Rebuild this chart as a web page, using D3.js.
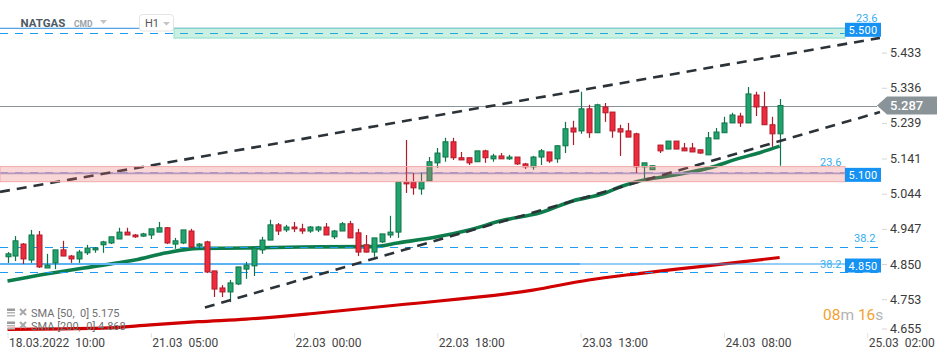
<!DOCTYPE html>
<html><head><meta charset="utf-8">
<script src="https://cdn.jsdelivr.net/npm/d3@7"></script>
<style>
body{margin:0;background:#fff;}
svg{display:block;font-family:Roboto,'Open Sans',sans-serif;}
</style>
</head><body>
<svg id="c" width="950" height="360"></svg>
<script>
// ---------- DATA ----------
const opens = [4.870,4.872,4.905,4.861,4.930,4.839,4.853,4.889,4.872,4.864,4.881,4.889,4.903,4.908,4.919,4.938,4.930,4.927,4.930,4.938,
4.950,4.905,4.908,4.941,4.900,4.911,4.831,4.784,4.773,4.795,4.836,4.845,4.889,4.916,4.958,4.944,4.952,4.947,4.941,4.944,
4.952,4.925,4.941,4.961,4.936,4.903,4.883,4.911,4.930,4.938,5.076,5.076,5.057,5.079,5.129,5.145,5.187,5.143,5.143,5.132,
5.162,5.140,5.148,5.140,5.145,5.126,5.118,5.145,5.159,5.140,5.176,5.225,5.217,5.278,5.212,5.283,5.269,5.223,5.217,5.209,
5.118,5.110,5.178,5.167,5.189,5.170,5.170,5.165,5.151,5.195,5.212,5.239,5.258,5.239,5.316,5.283,5.234,5.209];
const highs = [4.883,4.927,4.908,4.944,4.941,4.878,4.889,4.914,4.875,4.889,4.903,4.897,4.914,4.925,4.950,4.950,4.933,4.936,4.947,4.966,
4.952,4.922,4.944,4.947,4.908,4.914,4.831,4.792,4.806,4.842,4.856,4.894,4.925,4.972,4.963,4.958,4.966,4.961,4.955,4.955,
4.963,4.944,4.966,4.969,4.947,4.930,4.922,4.933,4.983,5.076,5.192,5.101,5.101,5.145,5.170,5.198,5.198,5.159,5.143,5.162,
5.165,5.154,5.156,5.151,5.145,5.129,5.148,5.167,5.159,5.178,5.242,5.245,5.325,5.289,5.292,5.294,5.269,5.234,5.239,5.212,
5.129,5.121,5.178,5.189,5.189,5.184,5.184,5.165,5.214,5.225,5.256,5.267,5.267,5.338,5.325,5.325,5.256,5.305];
const lows = [4.853,4.858,4.850,4.853,4.839,4.839,4.836,4.872,4.853,4.853,4.875,4.881,4.881,4.905,4.919,4.930,4.922,4.925,4.919,4.938,
4.905,4.892,4.905,4.894,4.892,4.825,4.759,4.759,4.745,4.792,4.809,4.817,4.878,4.916,4.930,4.938,4.938,4.933,4.936,4.938,
4.930,4.919,4.941,4.922,4.872,4.881,4.870,4.908,4.922,4.922,5.046,5.041,5.041,5.079,5.115,5.132,5.137,5.137,5.123,5.132,
5.129,5.132,5.140,5.137,5.123,5.112,5.110,5.123,5.129,5.129,5.156,5.178,5.209,5.198,5.212,5.242,5.198,5.148,5.200,5.101,
5.082,5.110,5.156,5.167,5.167,5.162,5.159,5.154,5.151,5.195,5.212,5.239,5.228,5.239,5.258,5.234,5.173,5.121];
const closes = [4.878,4.914,4.864,4.930,4.842,4.847,4.889,4.872,4.864,4.883,4.894,4.894,4.911,4.925,4.938,4.930,4.925,4.933,4.947,4.950,
4.908,4.914,4.944,4.897,4.905,4.828,4.781,4.773,4.798,4.842,4.847,4.894,4.916,4.958,4.941,4.952,4.947,4.941,4.952,4.952,
4.930,4.941,4.961,4.922,4.883,4.883,4.922,4.933,4.938,5.076,5.071,5.060,5.076,5.132,5.156,5.187,5.143,5.137,5.129,5.162,
5.143,5.148,5.140,5.145,5.126,5.118,5.145,5.162,5.134,5.176,5.223,5.214,5.278,5.212,5.289,5.267,5.217,5.214,5.200,5.118,
5.129,5.121,5.162,5.189,5.167,5.162,5.159,5.156,5.198,5.214,5.239,5.261,5.239,5.319,5.283,5.234,5.209,5.287];

const xTickIdx = [0,18,36,54,72,90,108];
const xTickLabels = ["18.03.2022  10:00","21.03  05:00","22.03  00:00","22.03  18:00","23.03  13:00","24.03  08:00","25.03  02:00"];
const yTicks = [5.433,5.336,5.239,5.141,5.044,4.947,4.850,4.753,4.655];

const sma50Idx = [0,5,12,16,20,24,30,37,46,49,54,58,62,67,71,75,77,79,84,88,92,94.5,97];
const sma50Val = [4.803,4.823,4.847,4.861,4.881,4.893,4.894,4.897,4.898,4.908,4.925,4.944,4.969,4.992,5.024,5.045,5.063,5.077,5.096,5.114,5.142,5.157,5.175];
const sma200Idx = [0,12,18,24,30,39,49,66,73,79,87,97];
const sma200Val = [4.670,4.673,4.682,4.691,4.698,4.715,4.737,4.778,4.806,4.823,4.843,4.868];

const lastPrice = 5.287;
const levelBoxes = [5.500,5.100,4.850];
const fibLevels = [5.4865,5.104,4.896,4.827];
const fibLabels = ["23.6","23.6","38.2","38.2"];
const greenZone = [5.473,5.500];
const redZone = [5.077,5.1186];
const trendUpper = [[-0.94,5.049],[109.6,5.4735]];
const trendLower = [[24.8,4.730],[109.6,5.269]];
const legendRows = ["SMA [50,  0] 5.175","SMA [200,  0] 4.868"];

// ---------- SCALES ----------
const svg = d3.select("#c");
const x = d3.scaleLinear().domain([0,108]).range([7.5,867.2]);
const y = d3.scaleLinear().domain([4.646,5.578]).range([338,0]);
const R = 880;

const plot = svg.append("g");

// legend (under the SMA200 line)
const leg = svg.append("g");
legendRows.forEach((t,k)=>{
  const cy = 313 + k*13;
  leg.append("rect").attr("x",7).attr("y",cy-4.5).attr("width",8).attr("height",2.5).attr("fill","#9a9a9a");
  leg.append("rect").attr("x",7).attr("y",cy-1).attr("width",8).attr("height",1.5).attr("fill","#b5b5b5");
  leg.append("rect").attr("x",7).attr("y",cy+2).attr("width",8).attr("height",1.5).attr("fill","#b5b5b5");
  leg.append("path").attr("d",`M20,${cy-4}L26,${cy+2}M26,${cy-4}L20,${cy+2}`).attr("stroke","#a8a8a8").attr("stroke-width",2);
  leg.append("text").attr("x",31).attr("y",cy+4).attr("font-size",11).attr("fill","#707070")
    .style("white-space","pre").text(t);
});

// SMA lines
const line = d3.line().x(d=>x(d[0])).y(d=>y(d[1])).curve(d3.curveMonotoneX);
plot.append("path").datum(sma200Idx.map((d,i)=>[d,sma200Val[i]]))
  .attr("d",line).attr("fill","none").attr("stroke","#d00000").attr("stroke-width",3.2);
plot.append("path").datum(sma50Idx.map((d,i)=>[d,sma50Val[i]]))
  .attr("d",line).attr("fill","none").attr("stroke","#0e7d4c").attr("stroke-width",3.6);

// horizontal level lines
plot.append("line").attr("x1",0).attr("x2",845).attr("y1",y(5.500)).attr("y2",y(5.500)).attr("stroke","#2b8de0").attr("stroke-width",1);
plot.append("line").attr("x1",0).attr("x2",580).attr("y1",y(4.850)).attr("y2",y(4.850)).attr("stroke","#8cc9f7").attr("stroke-width",2.2);
plot.append("line").attr("x1",0).attr("x2",R).attr("y1",y(4.850)).attr("y2",y(4.850)).attr("stroke","#2a9df2").attr("stroke-width",1.2);
fibLevels.forEach((v,k)=>{
  plot.append("line").attr("x1",0).attr("x2",k<2?845:R).attr("y1",Math.round(y(v))+0.5).attr("y2",Math.round(y(v))+0.5)
    .attr("stroke",k==1?"#7fa8e0":"#1d9bf0").attr("stroke-width",1).attr("stroke-dasharray","8,7");
});
plot.append("line").attr("x1",0).attr("x2",845).attr("y1",y(5.100)).attr("y2",y(5.100)).attr("stroke","#a3a7dc").attr("stroke-width",1.6);

// price line
plot.append("line").attr("x1",0).attr("x2",877).attr("y1",Math.round(y(lastPrice))+0.5).attr("y2",Math.round(y(lastPrice))+0.5)
  .attr("stroke","#8c9499").attr("stroke-width",1);

// candles
const candles = opens.map((o,i)=>({i,o,h:highs[i],l:lows[i],c:closes[i]}));
const cg = plot.append("g");
candles.forEach(d=>{
  const up = d.c>=d.o;
  const cx = Math.round(x(d.i))+0.5;
  const stroke = up?"#0f7449":"#b01b2b";
  const fill = up?"#22a36d":"#ef2a3c";
  cg.append("line").attr("x1",cx).attr("x2",cx).attr("y1",y(d.h)).attr("y2",y(d.l)).attr("stroke",stroke).attr("stroke-width",1.2);
  const top = y(Math.max(d.o,d.c)), bot = y(Math.min(d.o,d.c));
  cg.append("rect").attr("x",cx-2.5).attr("y",top).attr("width",5).attr("height",Math.max(1.5,bot-top))
    .attr("fill",fill).attr("stroke",stroke).attr("stroke-width",1);
});

// trend lines
[trendUpper,trendLower].forEach(t=>{
  plot.append("line").attr("x1",x(t[0][0])).attr("y1",y(t[0][1])).attr("x2",x(t[1][0])).attr("y2",y(t[1][1]))
    .attr("stroke","#2c3338").attr("stroke-width",2.6).attr("stroke-dasharray","10,7");
});

// zones (on top, translucent)
plot.append("rect").attr("x",0).attr("width",845).attr("y",y(redZone[1])).attr("height",y(redZone[0])-y(redZone[1]))
  .attr("fill","rgba(236,110,110,0.28)").attr("stroke","#f2a9a9").attr("stroke-width",1);
plot.append("rect").attr("x",174).attr("width",671).attr("y",y(greenZone[1])).attr("height",y(greenZone[0])-y(greenZone[1]))
  .attr("fill","rgba(60,200,150,0.28)").attr("stroke","#8fdfc6").attr("stroke-width",1);

// fib labels
const fibLabelPos = [[856,21.5],[820,166],[854,242],[820,268]];
fibLevels.forEach((v,k)=>{
  plot.append("text").attr("x",fibLabelPos[k][0]).attr("y",fibLabelPos[k][1]).attr("font-size",11)
    .attr("fill","#35aef0").text(fibLabels[k]);
});

// level boxes
levelBoxes.forEach(v=>{
  const cy = y(v) + 1.5;
  svg.append("rect").attr("x",845).attr("y",cy-7).attr("width",36).attr("height",14).attr("fill","#1592f2");
  svg.append("text").attr("x",863).attr("y",cy+4).attr("text-anchor","middle").attr("font-size",11)
    .attr("fill","#fff").attr("letter-spacing",0.3).text(v.toFixed(3));
});

// y axis
const yAx = svg.append("g").attr("transform","translate(882,0)")
  .call(d3.axisRight(y).tickValues(yTicks).tickFormat(d3.format(".3f")).tickSize(5).tickPadding(3));
yAx.select(".domain").remove();
yAx.selectAll(".tick line").attr("stroke","#d5d5d5");
yAx.selectAll(".tick text").attr("font-size",12.5).attr("fill","#3a3a3a").attr("font-family","Roboto,sans-serif");
yAx.selectAll(".tick").filter(d=>d===4.655).attr("transform","translate(0,329)");

// current price box
const py = y(lastPrice);
svg.append("path").attr("d",`M877,${py}L887,${py-9}L937,${py-9}L937,${py+9}L887,${py+9}Z`).attr("fill","#8a9398");
svg.append("text").attr("x",890).attr("y",py+4.5).attr("font-size",13).attr("font-weight",500).attr("fill","#fff").text(lastPrice.toFixed(3));

// x axis
const xAx = svg.append("g").attr("transform","translate(0,333)")
  .call(d3.axisBottom(x).tickValues(xTickIdx).tickFormat((d,i)=>xTickLabels[i]).tickSize(5).tickPadding(0));
xAx.select(".domain").remove();
xAx.selectAll(".tick line").attr("stroke","#e2e2e2");
xAx.selectAll(".tick text").attr("text-anchor","start").attr("x",1).attr("font-size",12).attr("fill","#444")
  .attr("font-family","Roboto,sans-serif").style("white-space","pre");

// countdown
const cd = svg.append("text").attr("x",823).attr("y",320).attr("font-size",15.5);
cd.append("tspan").attr("fill","#f5a031").text("08");
cd.append("tspan").attr("fill","#b3b3b3").text("m ");
cd.append("tspan").attr("fill","#f5a031").text("16");
cd.append("tspan").attr("fill","#b3b3b3").text("s");

// header
const hd = svg.append("g");
hd.append("text").attr("x",20.5).attr("y",27).attr("font-size",11.5).attr("font-weight",700).attr("fill","#4e5964").text("NATGAS");
hd.append("text").attr("x",74).attr("y",27).attr("font-size",8.5).attr("font-weight",700).attr("fill","#9aa1a8").text("CMD");
hd.append("path").attr("d","M100,20L107,20L103.5,24Z").attr("fill","#c4c4c4");
hd.append("rect").attr("x",139.5).attr("y",14.5).attr("width",34).attr("height",16.5).attr("rx",3).attr("fill","#fff").attr("stroke","#e3e3e3");
hd.append("text").attr("x",145).attr("y",27).attr("font-size",11).attr("fill","#555").text("H1");
hd.append("path").attr("d","M163,22L170,22L166.5,25.5Z").attr("fill","#c4c4c4");
</script>
</body></html>
